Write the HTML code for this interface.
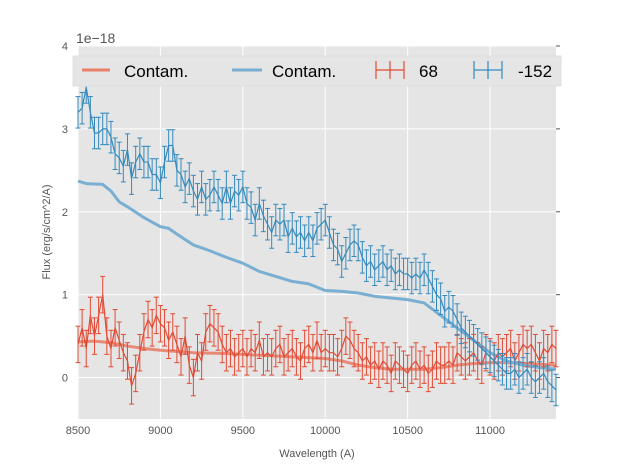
<!DOCTYPE html>
<html><head><meta charset="utf-8"><style>
body{margin:0;background:#fff;}
svg text{font-family:"Liberation Sans",sans-serif;}
</style></head><body>
<svg id="chart" width="617" height="467">
<rect x="78" y="46" width="478" height="373" fill="#e5e5e5"/>
<g id="grid"></g>
<g id="axes"></g>
<g id="series"></g>
<text x="76" y="43" font-size="14" fill="#555">1e−18</text>
<text x="317" y="457" font-size="11" fill="#555" text-anchor="middle">Wavelength (A)</text>
<text transform="translate(50,232) rotate(-90)" font-size="11" fill="#555" text-anchor="middle">Flux (erg/s/cm^2/A)</text>
<g>
<rect x="73" y="56" width="488" height="30" fill="#e5e5e5" stroke="#e0e0e0"/>
<g><line x1="82" y1="70" x2="110" y2="70" stroke="#e8806c" stroke-width="3"/><text x="124" y="77" font-size="17" fill="#000">Contam.</text></g>
<g><line x1="232" y1="70" x2="262" y2="70" stroke="#7aafd2" stroke-width="3"/><text x="272" y="77" font-size="17" fill="#000">Contam.</text></g>
<g stroke="#e24a33" stroke-width="1.2"><line x1="376" y1="70" x2="404" y2="70"/><line x1="390" y1="61" x2="390" y2="79"/><line x1="376" y1="61" x2="376" y2="79"/><line x1="404" y1="61" x2="404" y2="79"/><text x="419" y="77" font-size="17" fill="#000" stroke="none">68</text></g>
<g stroke="#348abd" stroke-width="1.2"><line x1="474" y1="70" x2="502" y2="70"/><line x1="488" y1="61" x2="488" y2="79"/><line x1="474" y1="61" x2="474" y2="79"/><line x1="502" y1="61" x2="502" y2="79"/><text x="518" y="77" font-size="17" fill="#000" stroke="none">-152</text></g>
</g>
</svg>
<script>
const xTicks=[8500,9000,9500,10000,10500,11000];
const yTicks=[0,1,2,3,4];
const waveStart=8500, waveStep=25;
const blueFlux=[3.2,3.25,3.5,3.2,2.95,2.95,3.0,3.0,2.9,2.7,2.65,2.55,2.75,2.4,2.6,2.7,2.6,2.6,2.45,2.45,2.35,2.6,2.8,2.8,2.5,2.45,2.3,2.4,2.25,2.15,2.3,2.15,2.2,2.3,2.2,2.1,2.3,2.1,2.25,2.2,2.3,2.1,2.05,1.9,2.1,1.95,1.85,1.75,1.9,1.85,1.9,1.7,1.8,1.7,1.75,1.65,1.75,1.65,1.8,1.85,1.9,1.75,1.6,1.55,1.4,1.5,1.6,1.65,1.6,1.45,1.35,1.4,1.3,1.35,1.4,1.3,1.35,1.25,1.3,1.25,1.25,1.2,1.25,1.2,1.3,1.2,1.1,1.0,0.95,0.8,0.85,0.8,0.7,0.6,0.55,0.5,0.45,0.4,0.35,0.3,0.25,0.2,0.15,0.1,0.05,0.05,0.1,0.0,0.05,0.1,0.0,-0.05,0.0,0.05,-0.05,-0.1,-0.15];
const redFlux=[0.4,0.6,0.35,0.75,0.5,0.75,1.0,0.5,0.35,0.6,0.45,0.3,0.2,-0.1,0.05,0.3,0.55,0.7,0.6,0.75,0.65,0.6,0.45,0.55,0.4,0.25,0.5,0.15,0.0,0.3,0.2,0.55,0.65,0.6,0.55,0.4,0.3,0.35,0.25,0.3,0.35,0.25,0.35,0.3,0.45,0.25,0.3,0.25,0.35,0.4,0.25,0.3,0.35,0.25,0.2,0.35,0.4,0.3,0.45,0.3,0.35,0.3,0.3,0.25,0.35,0.5,0.45,0.35,0.3,0.2,0.25,0.15,0.2,0.1,0.2,0.15,0.05,0.2,0.15,0.1,0.05,0.15,0.2,0.1,0.15,0.05,0.1,0.2,0.15,0.15,0.2,0.15,0.3,0.25,0.2,0.25,0.3,0.2,0.15,0.3,0.25,0.2,0.3,0.25,0.3,0.35,0.2,0.3,0.4,0.35,0.4,0.3,0.2,0.35,0.3,0.4,0.35];
const blueErr=0.19, redErr=0.22;
const contamWave=[8500,8550,8650,8700,8750,8800,8900,9000,9050,9100,9200,9300,9400,9500,9600,9700,9800,9900,10000,10100,10200,10300,10400,10500,10600,10700,10800,10900,11000,11100,11200,11300,11400];
const contamBlue=[2.37,2.34,2.33,2.25,2.12,2.06,1.93,1.82,1.8,1.73,1.6,1.53,1.45,1.38,1.28,1.22,1.16,1.13,1.05,1.04,1.02,0.98,0.96,0.94,0.9,0.75,0.6,0.45,0.3,0.2,0.15,0.12,0.1];
const contamRedWave=[8500,8600,8700,8800,8900,9000,9200,9400,9600,9800,10000,10100,10200,10300,10400,10500,10600,10700,10800,10900,11000,11100,11200,11300,11400];
const contamRed=[0.43,0.44,0.42,0.38,0.35,0.33,0.3,0.29,0.27,0.25,0.23,0.2,0.15,0.12,0.1,0.1,0.1,0.12,0.15,0.17,0.18,0.18,0.17,0.16,0.15];

const X0=78,X1=556,Y0=46,Y1=419,xMin=8500,xMax=11400,yMin=-0.5,yMax=4;
const sx=v=>X0+(v-xMin)/(xMax-xMin)*(X1-X0);
const sy=v=>Y1-(v-yMin)/(yMax-yMin)*(Y1-Y0);
const NS='http://www.w3.org/2000/svg';
function mk(tag,attrs,parent){const e=document.createElementNS(NS,tag);for(const k in attrs)e.setAttribute(k,attrs[k]);parent.appendChild(e);return e;}
const grid=document.getElementById('grid'),axes=document.getElementById('axes'),ser=document.getElementById('series');
xTicks.forEach(t=>{
 const g=mk('line',{x1:sx(t),x2:sx(t),y1:Y0,y2:Y1,stroke:'#fff','stroke-width':1},grid);
 
 
 const tx=mk('text',{x:sx(t),y:Y1+15,'font-size':11,fill:'#555','text-anchor':'middle'},axes);
 tx.textContent=t;
 
 
});
yTicks.forEach(t=>{
 const g=mk('line',{x1:X0,x2:X1,y1:sy(t),y2:sy(t),stroke:'#fff','stroke-width':1},grid);
 
 
 mk('line',{x1:X1,x2:X1+4,y1:sy(t),y2:sy(t),stroke:'#555'},axes);
 const tx=mk('text',{x:X0-10,y:sy(t)+4,'font-size':11,fill:'#555','text-anchor':'end'},axes);
 tx.textContent=t;
 
 
});
function line(xs,ys,color,w,name,op){
 const p=mk('polyline',{points:xs.map((x,i)=>sx(x)+','+sy(ys[i])).join(' '),fill:'none',stroke:color,'stroke-width':w,'stroke-opacity':op,'stroke-linejoin':'round'},ser);
 
 
}
function errs(vals,err,color,name){
 const g=mk('g',{stroke:color,'stroke-width':1},ser);
 
 
 const xs=vals.map((v,i)=>waveStart+i*waveStep);
 vals.forEach((v,i)=>{const x=sx(xs[i]);
  mk('line',{x1:x,x2:x,y1:sy(v-err),y2:sy(v+err)},g);
  mk('line',{x1:x-2.5,x2:x+2.5,y1:sy(v-err),y2:sy(v-err)},g);
  mk('line',{x1:x-2.5,x2:x+2.5,y1:sy(v+err),y2:sy(v+err)},g);
 });
 mk('polyline',{points:xs.map((x,i)=>sx(x)+','+sy(vals[i])).join(' '),fill:'none','stroke-width':1.2},g);
}
line(contamRedWave,contamRed,'#e8806c',3,'contam-red-line',0.9);
line(contamWave,contamBlue,'#7aafd2',3,'contam-blue-line',1);
errs(redFlux,redErr,'#e24a33','series-68');
errs(blueFlux,blueErr,'#348abd','series-neg152');
</script>
</body></html>
